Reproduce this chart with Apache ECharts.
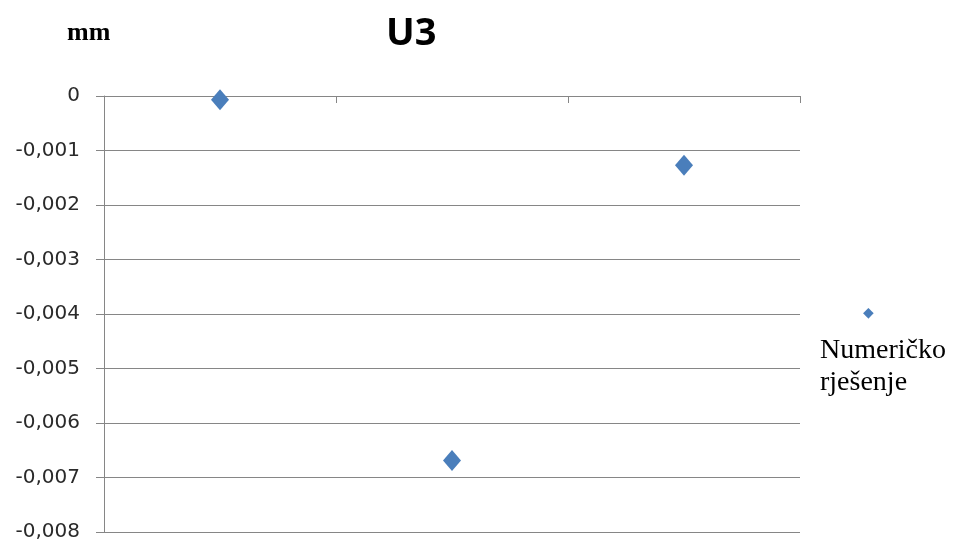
<!DOCTYPE html>
<html>
<head>
<meta charset="utf-8">
<script src="https://cdn.jsdelivr.net/npm/echarts@6/dist/echarts.min.js"></script>
<style>
html,body{margin:0;padding:0;background:#fff;}
#chart{width:955px;height:542px;}
</style>
</head>
<body>
<div id="chart"></div>
<script>
const categories = ['1', '2', '3'];
const numericValues = [-0.00007, -0.00669, -0.00127];
const seriesName = 'Numeričko rješenje';
const yMin = -0.008;
const yMax = 0;
const yStep = 0.001;

const chart = echarts.init(document.getElementById('chart'));
const gridColor = '#868686';
chart.setOption({
  animation: false,
  backgroundColor: '#ffffff',
  title: [
    {
      text: 'U3',
      left: 381,
      top: 10,
      textStyle: { fontFamily: 'Open Sans', fontWeight: 'bold', fontSize: 38, color: '#000' }
    },
    {
      text: 'mm',
      left: 62,
      top: 15,
      textStyle: { fontFamily: 'Liberation Serif', fontWeight: 'bold', fontSize: 26, color: '#000' }
    }
  ],
  legend: {
    left: 815,
    top: 306,
    padding: 0,
    itemWidth: 0,
    itemHeight: 0,
    icon: 'circle',
    data: [seriesName],
    formatter: function () {
      return '{i|◆}\n{t|Numeričko}\n{t|rješenje}';
    },
    textStyle: {
      rich: {
        i: { align: 'left', padding: [0, 0, 0, 43], fontSize: 14, lineHeight: 44, color: '#4A7EBB', fontFamily: 'DejaVu Sans' },
        t: { fontFamily: 'Liberation Serif', fontSize: 28, lineHeight: 32, color: '#000' }
      }
    }
  },
  grid: { left: 104, right: 155, top: 96, bottom: 10, containLabel: false },
  xAxis: {
    type: 'category',
    data: categories,
    boundaryGap: true,
    axisLine: { onZero: true, lineStyle: { color: gridColor, width: 1 } },
    axisTick: { show: true, length: 7, alignWithLabel: false, lineStyle: { color: gridColor } },
    axisLabel: { show: false },
    splitLine: { show: false }
  },
  yAxis: {
    type: 'value',
    min: yMin,
    max: yMax,
    interval: yStep,
    axisLine: { show: true, lineStyle: { color: gridColor, width: 1 } },
    axisTick: { show: true, length: 8, lineStyle: { color: gridColor } },
    splitLine: { show: true, lineStyle: { color: gridColor, width: 1 } },
    axisLabel: {
      margin: 24,
      fontFamily: 'DejaVu Sans',
      fontSize: 20,
      color: '#2a2a2a',
      formatter: function (v) {
        if (Math.abs(v) < 1e-12) return '0';
        return v.toFixed(3).replace('.', ',');
      }
    }
  },
  series: [
    {
      name: seriesName,
      type: 'scatter',
      data: numericValues,
      symbol: 'diamond',
      symbolSize: [18, 21],
      itemStyle: { color: '#4A7EBB', opacity: 1 }
    }
  ]
});
</script>
</body>
</html>
